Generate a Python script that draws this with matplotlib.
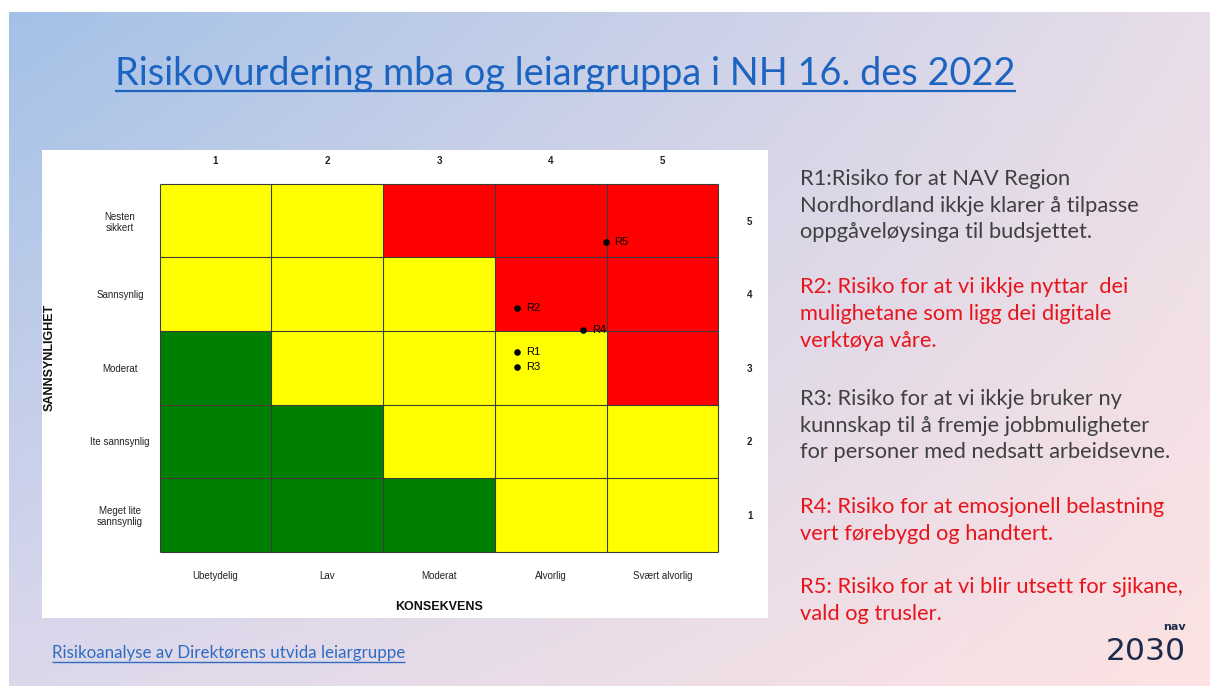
import numpy as np
import matplotlib
matplotlib.use("Agg")
import matplotlib.pyplot as plt
from matplotlib.colors import ListedColormap

# ---------------- data ----------------
title = "Risikovurdering mba og leiargruppa i NH 16. des 2022"
link_text = "Risikoanalyse av Direktørens utvida leiargruppe"

consequence_values = [1, 2, 3, 4, 5]
consequence_labels = ["Ubetydelig", "Lav", "Moderat", "Alvorlig", "Svært alvorlig"]
likelihood_values = [1, 2, 3, 4, 5]
likelihood_labels = ["Meget lite\nsannsynlig", "Ite sannsynlig", "Moderat", "Sannsynlig", "Nesten\nsikkert"]

# risk level per cell: rows = likelihood 1..5, cols = consequence 1..5 (0 green, 1 yellow, 2 red)
risk_row_1 = [0, 0, 0, 1, 1]
risk_row_2 = [0, 0, 1, 1, 1]
risk_row_3 = [0, 1, 1, 1, 2]
risk_row_4 = [1, 1, 1, 2, 2]
risk_row_5 = [1, 1, 2, 2, 2]

risk_names = ["R1", "R2", "R3", "R4", "R5"]
risk_consequence = [3.70, 3.70, 3.70, 4.29, 4.49]
risk_likelihood = [3.21, 3.81, 3.01, 3.51, 4.71]

para_R1 = ["R1:Risiko for at NAV Region", "Nordhordland ikkje klarer å tilpasse", "oppgåveløysinga til budsjettet."]
para_R2 = ["R2: Risiko for at vi ikkje nyttar  dei", "mulighetane som ligg dei digitale", "verktøya våre."]
para_R3 = ["R3: Risiko for at vi ikkje bruker ny", "kunnskap til å fremje jobbmuligheter", "for personer med nedsatt arbeidsevne."]
para_R4 = ["R4: Risiko for at emosjonell belastning", "vert førebygd og handtert."]
para_R5 = ["R5: Risiko for at vi blir utsett for sjikane,", "vald og trusler."]

# ---------------- figure ----------------
W, H = 1210, 686
fig = plt.figure(figsize=(W / 100, H / 100), dpi=100)
fig.patch.set_facecolor("white")
bg = fig.add_axes([0, 0, 1, 1])
bg.set_xlim(0, W)
bg.set_ylim(H, 0)
bg.axis("off")

# slide gradient background
def hx(c):
    c = c.lstrip("#")
    return np.array([int(c[i:i + 2], 16) for i in (0, 2, 4)]) / 255.0
tl, tr, bl, br = hx("#a3c1e7"), hx("#e8dde9"), hx("#dcd8ec"), hx("#fde3e3")
u = np.linspace(0, 1, 200)[None, :, None]
v = np.linspace(0, 1, 120)[:, None, None]
img = (1 - u) * (1 - v) * tl + u * (1 - v) * tr + (1 - u) * v * bl + u * v * br
bg.imshow(img, extent=[9, W, H, 12], aspect="auto", interpolation="bilinear", zorder=0)

# white chart panel
bg.add_patch(plt.Rectangle((42, 150), 726, 468, facecolor="white", edgecolor="none", zorder=1))

renderer = fig.canvas.get_renderer()

def fit(t, target_w, axis="w"):
    for _ in range(3):
        bb = t.get_window_extent(renderer)
        cur = bb.width if axis == "w" else bb.height
        t.set_fontsize(t.get_fontsize() * target_w / cur)
    return t

def underline(t, y, color, lw):
    bb = t.get_window_extent(renderer)
    bg.plot([bb.x0, bb.x1], [y, y], color=color, lw=lw, solid_capstyle="butt", zorder=3)

# title
t = bg.text(115, 85, title, fontsize=26, family=["Lato", "DejaVu Sans"], color="#1c64c0",
            va="baseline", ha="left", zorder=3)
fit(t, 900)
underline(t, 90.5, "#1c64c0", 1.6)

# link
t = bg.text(52, 658, link_text, fontsize=11, family=["Lato", "DejaVu Sans"], color="#2f6cc0",
            va="baseline", ha="left", zorder=3)
fit(t, 351)
underline(t, 662, "#2f6cc0", 1.0)

# right side text
probe = bg.text(800, 0, para_R1[1], fontsize=13, family=["Lato", "DejaVu Sans"], alpha=0)
fit(probe, 338)
fs = probe.get_fontsize()
probe.remove()
gray, red = "#404040", "#e8141c"
paras = [(para_R1, 185, gray), (para_R2, 293.3, red), (para_R3, 405, gray),
         (para_R4, 513.3, red), (para_R5, 593.3, red)]
for lines, y0, col in paras:
    for i, line in enumerate(lines):
        bg.text(800, y0 + i * 26.7, line, fontsize=fs, family=["Lato", "DejaVu Sans"],
                color=col, va="baseline", ha="left", zorder=3)

# logo
t = bg.text(1186, 629.5, "nav", fontsize=6, family=["DejaVu Sans"], weight="bold",
            color="#1d2a4d", va="baseline", ha="right", zorder=3)
fit(t, 23)
t = bg.text(1106, 660.5, "2030", fontsize=18, family=["DejaVu Sans"],
            color="#1d2a4d", va="baseline", ha="left", zorder=3)
fit(t, 80)

# ---------------- risk matrix ----------------
L, R, T, B = 159.5, 718.5, 184, 551.5
ax = fig.add_axes([L / W, (H - B) / H, (R - L) / W, (B - T) / H])
grid = np.array([risk_row_1, risk_row_2, risk_row_3, risk_row_4, risk_row_5])
cmap = ListedColormap(["#008000", "#ffff00", "#ff0000"])
edges_x = np.arange(0.5, len(consequence_values) + 1, 1.0)
edges_y = np.arange(0.5, len(likelihood_values) + 1, 1.0)
ax.pcolormesh(edges_x, edges_y, grid, cmap=cmap, vmin=-0.5, vmax=2.5, edgecolors="none")
ax.vlines(edges_x, edges_y[0], edges_y[-1], color="#3c3c3c", lw=0.8, zorder=3, clip_on=False)
ax.hlines(edges_y, edges_x[0], edges_x[-1], color="#3c3c3c", lw=0.8, zorder=3, clip_on=False)
ax.set_xlim(0.5, 5.5)
ax.set_ylim(0.5, 5.5)
for s in ax.spines.values():
    s.set_visible(False)

chart_font = ["Liberation Sans Narrow", "Liberation Sans", "DejaVu Sans"]
ax.set_xticks(consequence_values, consequence_labels, family=chart_font, fontsize=7, color="#222222")
ax.tick_params(axis="x", length=0, pad=14)
ax.set_yticks(likelihood_values, likelihood_labels, family=chart_font, fontsize=7, color="#222222",
              ha="center", multialignment="center")
ax.tick_params(axis="y", length=0, pad=28.5)

top = ax.secondary_xaxis("top")
top.set_xticks(consequence_values, [str(v) for v in consequence_values],
               family=chart_font, fontsize=7, weight="bold", color="#222222")
top.tick_params(length=0, pad=13)
right = ax.secondary_yaxis("right")
right.set_yticks(likelihood_values, [str(v) for v in likelihood_values],
                 family=chart_font, fontsize=7, weight="bold", color="#222222")
right.tick_params(length=0, pad=20.5)
for sax in (top, right):
    for s in sax.spines.values():
        s.set_visible(False)

kt = ax.text(0.5, -0.151, "KONSEKVENS", transform=ax.transAxes, ha="center", va="center",
             family=["Liberation Sans", "DejaVu Sans"], weight="bold", fontsize=8, color="#111111")
fit(kt, 88)
st = ax.text(-0.196, 0.527, "SANNSYNLIGHET", transform=ax.transAxes, ha="center", va="center",
             rotation=90, family=["Liberation Sans", "DejaVu Sans"], weight="bold", fontsize=8,
             color="#111111")
fit(st, 107, axis="h")

ax.scatter(risk_consequence, risk_likelihood, s=14, color="black", zorder=5)
for name, x, y in zip(risk_names, risk_consequence, risk_likelihood):
    ax.annotate(name, (x, y), xytext=(6.5, 0), textcoords="offset points", va="center", ha="left",
                family=chart_font, fontsize=8, color="black", zorder=6)

fig.savefig("out.png", dpi=100)
